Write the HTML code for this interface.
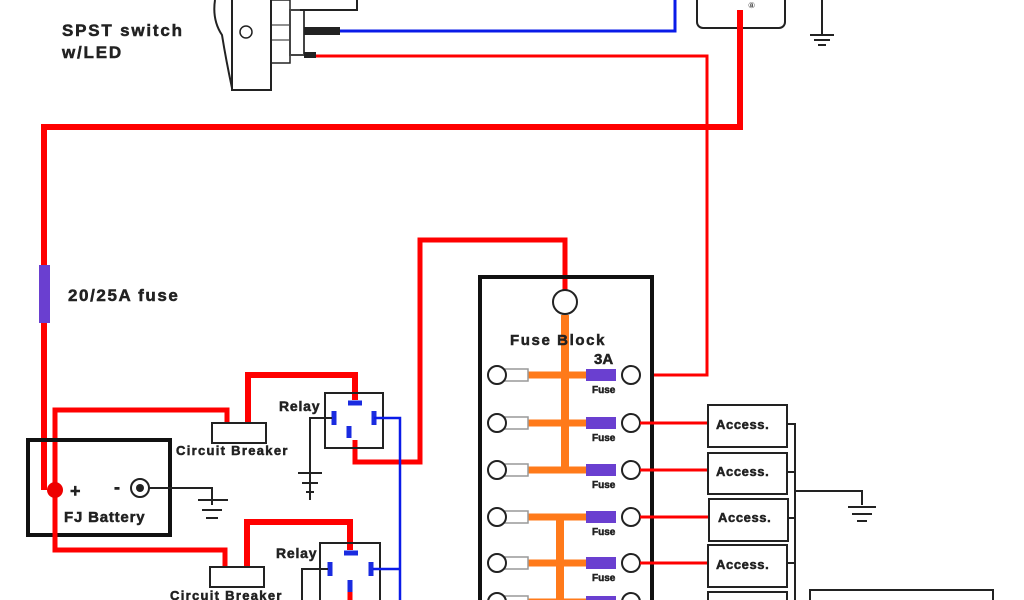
<!DOCTYPE html>
<html><head><meta charset="utf-8"><style>
html,body{margin:0;padding:0;background:#fff;width:1024px;height:600px;overflow:hidden}
text{font-family:"Liberation Sans",sans-serif;font-weight:bold;fill:#222;stroke:#222;stroke-width:0.5}
</style></head><body>
<svg width="1024" height="600" viewBox="0 0 1024 600" xmlns="http://www.w3.org/2000/svg">
<g fill="none" stroke-linejoin="miter">
<path d="M215,0 Q212,20 222,35 Q226,60 232,88" stroke="#222" stroke-width="2"/>
<rect x="232" y="-5" width="39" height="95" stroke="#222" stroke-width="2"/>
<circle cx="246" cy="32" r="6" stroke="#222" stroke-width="1.5"/>
<rect x="271" y="0" width="19" height="63" stroke="#222" stroke-width="1.5"/>
<line x1="271" y1="25" x2="290" y2="25" stroke="#222"/><line x1="271" y1="40" x2="290" y2="40" stroke="#222"/>
<rect x="290" y="10" width="14" height="45" stroke="#444" stroke-width="2"/>
<path d="M300,10 H357 V0" stroke="#222" stroke-width="2"/>
<rect x="304" y="27" width="36" height="8" fill="#222"/>
<rect x="304" y="52" width="12" height="6" fill="#222"/>
<path d="M340,31 H675 V0" stroke="#0a1be8" stroke-width="3"/>
<path d="M316,56 H707 V375 H650" stroke="#f00" stroke-width="3"/>
<rect x="697" y="-10" width="88" height="38" rx="6" stroke="#222" stroke-width="2"/>
<text x="748" y="8" font-size="8" style="font-weight:normal;stroke:none">⑧</text>
<path d="M822,0 V35 M810,35 H834 M814,40 H830 M818,45 H826" stroke="#222" stroke-width="2"/>
<path d="M740,10 V127 H44 V490" stroke="#f00" stroke-width="6"/>
<rect x="39" y="265" width="11" height="58" fill="#6a3fd0"/>
<path d="M565,290 V240 H420 V462 H355 V440" stroke="#f00" stroke-width="5"/>
<path d="M55,485 V410 H227 V423" stroke="#f00" stroke-width="5"/>
<path d="M248,423 V375 H355 V400" stroke="#f00" stroke-width="6"/>
<rect x="212" y="423" width="54" height="20" fill="#fff" stroke="#222" stroke-width="2"/>
<rect x="325" y="393" width="58" height="55" stroke="#222" stroke-width="2"/>
<path d="M348,403 H362 M349,438 V426 M334,411 V425 M374,411 V425" stroke="#1a2be0" stroke-width="5"/>
<path d="M374,418 H400 V600" stroke="#0a1be8" stroke-width="2.5"/>
<path d="M332,418 H310 V500 M298,473 H322 M302,483 H318 M306,492 H314" stroke="#222" stroke-width="2"/>
<rect x="28" y="440" width="142" height="95" stroke="#111" stroke-width="4"/>
<path d="M55,490 V550 H225 V566" stroke="#f00" stroke-width="5"/>
<path d="M247,566 V522 H350 V550" stroke="#f00" stroke-width="6"/>
<circle cx="55" cy="490" r="8" fill="#e00"/>
<circle cx="140" cy="488" r="9" stroke="#222" stroke-width="2"/>
<circle cx="140" cy="488" r="4" fill="#222"/>
<path d="M149,488 H212 V505 M198,500 H228 M202,510 H222 M206,518 H218" stroke="#222" stroke-width="2"/>
<rect x="210" y="567" width="54" height="20" fill="#fff" stroke="#222" stroke-width="2"/>
<rect x="320" y="543" width="60" height="60" stroke="#222" stroke-width="2"/>
<path d="M344,553 H358 M330,562 V576 M371,562 V576 M350,580 V592" stroke="#1a2be0" stroke-width="5"/>
<path d="M373,569 H400" stroke="#0a1be8" stroke-width="2.5"/>
<path d="M328,569 H302 V600" stroke="#222" stroke-width="2"/>
<path d="M350,592 V600" stroke="#f00" stroke-width="5"/>
<rect x="480" y="277" width="172" height="340" stroke="#111" stroke-width="4"/>
<line x1="565" y1="315" x2="565" y2="470" stroke="#ff7a1a" stroke-width="8"/>
<line x1="560" y1="517" x2="560" y2="600" stroke="#ff7a1a" stroke-width="8"/>
<circle cx="565" cy="302" r="12" fill="#fff" stroke="#222" stroke-width="2"/>
</g>
<g fill="none">
<g stroke="#ff7a1a" stroke-width="7">
<path d="M528,375 H586 M528,423 H586 M528,470 H586 M528,517 H586 M528,563 H586 M528,602 H586"/>
</g>
<g fill="#6a3fd0">
<rect x="586" y="369" width="30" height="12"/><rect x="586" y="417" width="30" height="12"/><rect x="586" y="464" width="30" height="12"/><rect x="586" y="511" width="30" height="12"/><rect x="586" y="557" width="30" height="12"/><rect x="586" y="596" width="30" height="12"/>
</g>
<g stroke="#999" stroke-width="1.5" fill="#fff">
<rect x="505" y="369" width="23" height="12"/><rect x="505" y="417" width="23" height="12"/><rect x="505" y="464" width="23" height="12"/><rect x="505" y="511" width="23" height="12"/><rect x="505" y="557" width="23" height="12"/><rect x="505" y="596" width="23" height="12"/>
</g>
<g stroke="#222" stroke-width="2" fill="#fff">
<circle cx="497" cy="375" r="9"/><circle cx="497" cy="423" r="9"/><circle cx="497" cy="470" r="9"/><circle cx="497" cy="517" r="9"/><circle cx="497" cy="563" r="9"/><circle cx="497" cy="602" r="9"/>
<circle cx="631" cy="375" r="9"/><circle cx="631" cy="423" r="9"/><circle cx="631" cy="470" r="9"/><circle cx="631" cy="517" r="9"/><circle cx="631" cy="563" r="9"/><circle cx="631" cy="602" r="9"/>
</g>
<path d="M640,423 H708 M640,470 H708 M640,517 H708 M640,563 H708" stroke="#f00" stroke-width="3"/>
<g stroke="#222" stroke-width="2" fill="#fff">
<rect x="708" y="405" width="79" height="42"/><rect x="708" y="453" width="79" height="41"/><rect x="709" y="499" width="79" height="42"/><rect x="708" y="545" width="79" height="42"/><rect x="708" y="592" width="79" height="30"/>
<rect x="810" y="590" width="183" height="30"/>
</g>
<path d="M787,424 H795 V600 M787,472 H795 M788,518 H795 M787,563 H795 M795,491 H862 V505 M848,507 H876 M852,514 H872 M857,521 H867" stroke="#222" stroke-width="2"/>
</g>
<text x="62" y="36" font-size="17" letter-spacing="1.8">SPST switch</text>
<text x="62" y="58" font-size="17" letter-spacing="1.8">w/LED</text>
<text x="68" y="301" font-size="17" letter-spacing="1.6">20/25A fuse</text>
<text x="510" y="345" font-size="15" letter-spacing="1.6">Fuse Block</text>
<text x="594" y="364" font-size="15">3A</text>
<text x="279" y="411" font-size="14" letter-spacing="0.8">Relay</text>
<text x="276" y="558" font-size="14" letter-spacing="0.8">Relay</text>
<text x="176" y="455" font-size="13" letter-spacing="1.3">Circuit Breaker</text>
<text x="170" y="600" font-size="13" letter-spacing="1.3">Circuit Breaker</text>
<text x="64" y="522" font-size="15" letter-spacing="0.8">FJ Battery</text>
<text x="70" y="497" font-size="18">+</text>
<text x="114" y="493" font-size="18">-</text>
<text x="592" y="393" font-size="10">Fuse</text><text x="592" y="441" font-size="10">Fuse</text><text x="592" y="488" font-size="10">Fuse</text><text x="592" y="535" font-size="10">Fuse</text><text x="592" y="581" font-size="10">Fuse</text>
<text x="716" y="429" font-size="13" letter-spacing="0.6">Access.</text>
<text x="716" y="476" font-size="13" letter-spacing="0.6">Access.</text>
<text x="718" y="522" font-size="13" letter-spacing="0.6">Access.</text>
<text x="716" y="569" font-size="13" letter-spacing="0.6">Access.</text>
</svg>
</body></html>
